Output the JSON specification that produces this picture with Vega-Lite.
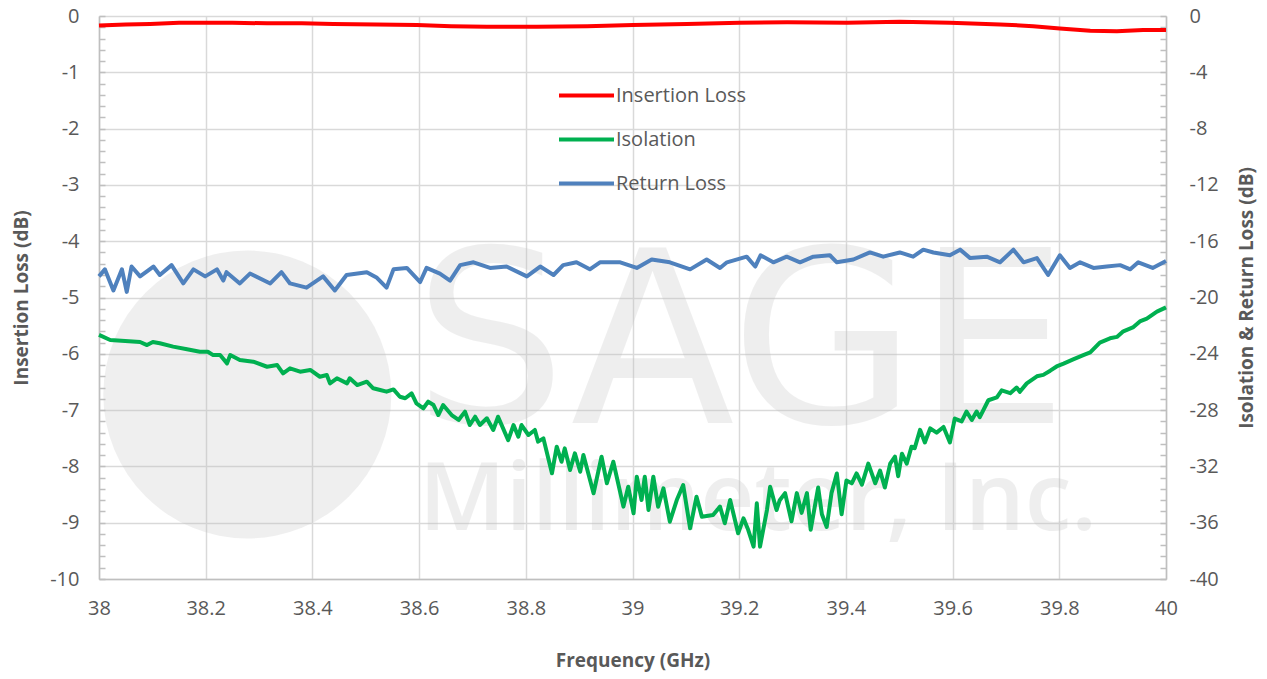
{
  "$schema": "https://vega.github.io/schema/vega-lite/v6.json",
  "width": 1067,
  "height": 563,
  "autosize": {"type": "none"},
  "padding": {"left": 99, "top": 16, "right": 101, "bottom": 100},
  "background": "white",
  "config": {
    "font": "Open Sans",
    "view": {"stroke": null},
    "axis": {
      "labelFont": "Open Sans", "titleFont": "Open Sans",
      "labelColor": "#595959", "titleColor": "#595959",
      "labelFontSize": 20, "titleFontSize": 19, "titleFontWeight": "bold",
      "domainColor": "#BFBFBF", "domainWidth": 1.5,
      "gridColor": "#D9D9D9", "gridWidth": 1.5,
      "tickColor": "#BFBFBF", "tickWidth": 1.5,
      "labelOverlap": false, "labelFlush": false, "labelBound": false
    }
  },
  "datasets": {
    "il": [
      {"freq": 38.0, "loss": -0.17}, {"freq": 38.05, "loss": -0.15}, {"freq": 38.096, "loss": -0.14},
      {"freq": 38.15, "loss": -0.12}, {"freq": 38.189, "loss": -0.12}, {"freq": 38.25, "loss": -0.12},
      {"freq": 38.315, "loss": -0.13}, {"freq": 38.38, "loss": -0.13}, {"freq": 38.439, "loss": -0.14},
      {"freq": 38.52, "loss": -0.15}, {"freq": 38.596, "loss": -0.16}, {"freq": 38.66, "loss": -0.18},
      {"freq": 38.727, "loss": -0.19}, {"freq": 38.821, "loss": -0.19}, {"freq": 38.915, "loss": -0.18},
      {"freq": 39.001, "loss": -0.16}, {"freq": 39.102, "loss": -0.14}, {"freq": 39.201, "loss": -0.12},
      {"freq": 39.29, "loss": -0.11}, {"freq": 39.402, "loss": -0.12}, {"freq": 39.501, "loss": -0.1},
      {"freq": 39.595, "loss": -0.12}, {"freq": 39.689, "loss": -0.15}, {"freq": 39.751, "loss": -0.18},
      {"freq": 39.801, "loss": -0.22}, {"freq": 39.858, "loss": -0.26}, {"freq": 39.908, "loss": -0.27},
      {"freq": 39.957, "loss": -0.25}, {"freq": 40.0, "loss": -0.25}
    ],
    "db": [
      {"series": "Isolation", "freq": 38.0, "db": -22.66}, {"series": "Isolation", "freq": 38.021, "db": -23.02},
      {"series": "Isolation", "freq": 38.049, "db": -23.09}, {"series": "Isolation", "freq": 38.077, "db": -23.16},
      {"series": "Isolation", "freq": 38.09, "db": -23.38}, {"series": "Isolation", "freq": 38.101, "db": -23.16},
      {"series": "Isolation", "freq": 38.114, "db": -23.25}, {"series": "Isolation", "freq": 38.139, "db": -23.49},
      {"series": "Isolation", "freq": 38.165, "db": -23.68}, {"series": "Isolation", "freq": 38.189, "db": -23.85},
      {"series": "Isolation", "freq": 38.204, "db": -23.85}, {"series": "Isolation", "freq": 38.214, "db": -24.09},
      {"series": "Isolation", "freq": 38.227, "db": -24.09}, {"series": "Isolation", "freq": 38.24, "db": -24.68},
      {"series": "Isolation", "freq": 38.246, "db": -24.09}, {"series": "Isolation", "freq": 38.264, "db": -24.44},
      {"series": "Isolation", "freq": 38.289, "db": -24.56}, {"series": "Isolation", "freq": 38.315, "db": -24.92},
      {"series": "Isolation", "freq": 38.334, "db": -24.8}, {"series": "Isolation", "freq": 38.345, "db": -25.39},
      {"series": "Isolation", "freq": 38.358, "db": -25.03}, {"series": "Isolation", "freq": 38.377, "db": -25.27},
      {"series": "Isolation", "freq": 38.396, "db": -25.15}, {"series": "Isolation", "freq": 38.414, "db": -25.63},
      {"series": "Isolation", "freq": 38.427, "db": -25.51}, {"series": "Isolation", "freq": 38.433, "db": -26.1},
      {"series": "Isolation", "freq": 38.446, "db": -25.74}, {"series": "Isolation", "freq": 38.465, "db": -26.1},
      {"series": "Isolation", "freq": 38.47, "db": -25.74}, {"series": "Isolation", "freq": 38.484, "db": -26.22},
      {"series": "Isolation", "freq": 38.502, "db": -25.98}, {"series": "Isolation", "freq": 38.514, "db": -26.45},
      {"series": "Isolation", "freq": 38.527, "db": -26.57}, {"series": "Isolation", "freq": 38.539, "db": -26.69},
      {"series": "Isolation", "freq": 38.552, "db": -26.53}, {"series": "Isolation", "freq": 38.564, "db": -27.05},
      {"series": "Isolation", "freq": 38.574, "db": -27.16}, {"series": "Isolation", "freq": 38.586, "db": -26.81},
      {"series": "Isolation", "freq": 38.595, "db": -27.52}, {"series": "Isolation", "freq": 38.608, "db": -27.87},
      {"series": "Isolation", "freq": 38.617, "db": -27.4}, {"series": "Isolation", "freq": 38.627, "db": -27.64},
      {"series": "Isolation", "freq": 38.636, "db": -28.35}, {"series": "Isolation", "freq": 38.645, "db": -27.64},
      {"series": "Isolation", "freq": 38.661, "db": -28.35}, {"series": "Isolation", "freq": 38.674, "db": -28.7},
      {"series": "Isolation", "freq": 38.686, "db": -28.11}, {"series": "Isolation", "freq": 38.695, "db": -29.06},
      {"series": "Isolation", "freq": 38.705, "db": -28.47}, {"series": "Isolation", "freq": 38.714, "db": -29.06},
      {"series": "Isolation", "freq": 38.727, "db": -28.58}, {"series": "Isolation", "freq": 38.739, "db": -29.41},
      {"series": "Isolation", "freq": 38.748, "db": -28.47}, {"series": "Isolation", "freq": 38.767, "db": -30.13},
      {"series": "Isolation", "freq": 38.777, "db": -29.06}, {"series": "Isolation", "freq": 38.786, "db": -29.89},
      {"series": "Isolation", "freq": 38.792, "db": -29.06}, {"series": "Isolation", "freq": 38.805, "db": -29.77},
      {"series": "Isolation", "freq": 38.817, "db": -29.41}, {"series": "Isolation", "freq": 38.823, "db": -30.24},
      {"series": "Isolation", "freq": 38.833, "db": -30.01}, {"series": "Isolation", "freq": 38.849, "db": -32.49},
      {"series": "Isolation", "freq": 38.858, "db": -30.6}, {"series": "Isolation", "freq": 38.867, "db": -31.67},
      {"series": "Isolation", "freq": 38.873, "db": -30.72}, {"series": "Isolation", "freq": 38.883, "db": -32.26},
      {"series": "Isolation", "freq": 38.892, "db": -31.07}, {"series": "Isolation", "freq": 38.902, "db": -32.38},
      {"series": "Isolation", "freq": 38.908, "db": -31.19}, {"series": "Isolation", "freq": 38.927, "db": -33.91},
      {"series": "Isolation", "freq": 38.942, "db": -31.31}, {"series": "Isolation", "freq": 38.952, "db": -33.2},
      {"series": "Isolation", "freq": 38.964, "db": -31.67}, {"series": "Isolation", "freq": 38.983, "db": -34.86},
      {"series": "Isolation", "freq": 38.992, "db": -33.44}, {"series": "Isolation", "freq": 39.002, "db": -35.33},
      {"series": "Isolation", "freq": 39.008, "db": -32.73}, {"series": "Isolation", "freq": 39.017, "db": -34.39},
      {"series": "Isolation", "freq": 39.023, "db": -32.73}, {"series": "Isolation", "freq": 39.03, "db": -35.1},
      {"series": "Isolation", "freq": 39.039, "db": -32.73}, {"series": "Isolation", "freq": 39.048, "db": -34.86},
      {"series": "Isolation", "freq": 39.058, "db": -33.56}, {"series": "Isolation", "freq": 39.07, "db": -35.93},
      {"series": "Isolation", "freq": 39.083, "db": -34.39}, {"series": "Isolation", "freq": 39.095, "db": -33.32},
      {"series": "Isolation", "freq": 39.108, "db": -36.4}, {"series": "Isolation", "freq": 39.12, "db": -34.15},
      {"series": "Isolation", "freq": 39.13, "db": -35.57}, {"series": "Isolation", "freq": 39.151, "db": -35.45},
      {"series": "Isolation", "freq": 39.164, "db": -34.86}, {"series": "Isolation", "freq": 39.173, "db": -36.04},
      {"series": "Isolation", "freq": 39.183, "db": -34.39}, {"series": "Isolation", "freq": 39.198, "db": -36.75},
      {"series": "Isolation", "freq": 39.208, "db": -35.69}, {"series": "Isolation", "freq": 39.217, "db": -36.52},
      {"series": "Isolation", "freq": 39.227, "db": -37.7}, {"series": "Isolation", "freq": 39.233, "db": -34.62},
      {"series": "Isolation", "freq": 39.239, "db": -37.7}, {"series": "Isolation", "freq": 39.252, "db": -35.1},
      {"series": "Isolation", "freq": 39.258, "db": -33.44}, {"series": "Isolation", "freq": 39.27, "db": -35.1},
      {"series": "Isolation", "freq": 39.276, "db": -34.4}, {"series": "Isolation", "freq": 39.286, "db": -33.9},
      {"series": "Isolation", "freq": 39.298, "db": -35.9}, {"series": "Isolation", "freq": 39.308, "db": -33.9},
      {"series": "Isolation", "freq": 39.317, "db": -35.3}, {"series": "Isolation", "freq": 39.327, "db": -33.9},
      {"series": "Isolation", "freq": 39.334, "db": -36.5}, {"series": "Isolation", "freq": 39.348, "db": -33.5},
      {"series": "Isolation", "freq": 39.355, "db": -35.4}, {"series": "Isolation", "freq": 39.364, "db": -36.3},
      {"series": "Isolation", "freq": 39.373, "db": -33.9}, {"series": "Isolation", "freq": 39.383, "db": -32.5},
      {"series": "Isolation", "freq": 39.392, "db": -35.4}, {"series": "Isolation", "freq": 39.401, "db": -33.0},
      {"series": "Isolation", "freq": 39.411, "db": -33.2}, {"series": "Isolation", "freq": 39.42, "db": -32.5},
      {"series": "Isolation", "freq": 39.43, "db": -33.3}, {"series": "Isolation", "freq": 39.442, "db": -31.8},
      {"series": "Isolation", "freq": 39.455, "db": -33.2}, {"series": "Isolation", "freq": 39.464, "db": -32.3},
      {"series": "Isolation", "freq": 39.473, "db": -33.5}, {"series": "Isolation", "freq": 39.483, "db": -31.8},
      {"series": "Isolation", "freq": 39.492, "db": -31.3}, {"series": "Isolation", "freq": 39.498, "db": -32.7},
      {"series": "Isolation", "freq": 39.505, "db": -31.1}, {"series": "Isolation", "freq": 39.514, "db": -31.8},
      {"series": "Isolation", "freq": 39.523, "db": -30.6}, {"series": "Isolation", "freq": 39.529, "db": -30.7},
      {"series": "Isolation", "freq": 39.539, "db": -29.4}, {"series": "Isolation", "freq": 39.548, "db": -30.3},
      {"series": "Isolation", "freq": 39.558, "db": -29.3}, {"series": "Isolation", "freq": 39.57, "db": -29.6},
      {"series": "Isolation", "freq": 39.583, "db": -29.2}, {"series": "Isolation", "freq": 39.595, "db": -30.3},
      {"series": "Isolation", "freq": 39.604, "db": -28.6}, {"series": "Isolation", "freq": 39.617, "db": -28.8},
      {"series": "Isolation", "freq": 39.626, "db": -28.1}, {"series": "Isolation", "freq": 39.636, "db": -28.7},
      {"series": "Isolation", "freq": 39.645, "db": -28.1}, {"series": "Isolation", "freq": 39.651, "db": -28.5},
      {"series": "Isolation", "freq": 39.667, "db": -27.3}, {"series": "Isolation", "freq": 39.683, "db": -27.1},
      {"series": "Isolation", "freq": 39.692, "db": -26.6}, {"series": "Isolation", "freq": 39.708, "db": -26.8},
      {"series": "Isolation", "freq": 39.72, "db": -26.4}, {"series": "Isolation", "freq": 39.726, "db": -26.7},
      {"series": "Isolation", "freq": 39.739, "db": -26.1}, {"series": "Isolation", "freq": 39.758, "db": -25.6},
      {"series": "Isolation", "freq": 39.77, "db": -25.5}, {"series": "Isolation", "freq": 39.783, "db": -25.2},
      {"series": "Isolation", "freq": 39.795, "db": -24.9}, {"series": "Isolation", "freq": 39.808, "db": -24.7},
      {"series": "Isolation", "freq": 39.826, "db": -24.4}, {"series": "Isolation", "freq": 39.845, "db": -24.1},
      {"series": "Isolation", "freq": 39.858, "db": -23.9}, {"series": "Isolation", "freq": 39.876, "db": -23.2},
      {"series": "Isolation", "freq": 39.895, "db": -22.9}, {"series": "Isolation", "freq": 39.908, "db": -22.8},
      {"series": "Isolation", "freq": 39.92, "db": -22.4}, {"series": "Isolation", "freq": 39.939, "db": -22.1},
      {"series": "Isolation", "freq": 39.951, "db": -21.7}, {"series": "Isolation", "freq": 39.964, "db": -21.5},
      {"series": "Isolation", "freq": 39.983, "db": -21.0}, {"series": "Isolation", "freq": 40.0, "db": -20.7},
      {"series": "Return Loss", "freq": 38.0, "db": -18.5}, {"series": "Return Loss", "freq": 38.011, "db": -18.0},
      {"series": "Return Loss", "freq": 38.027, "db": -19.5}, {"series": "Return Loss", "freq": 38.043, "db": -18.0},
      {"series": "Return Loss", "freq": 38.052, "db": -19.6}, {"series": "Return Loss", "freq": 38.061, "db": -17.8},
      {"series": "Return Loss", "freq": 38.077, "db": -18.5}, {"series": "Return Loss", "freq": 38.102, "db": -17.8},
      {"series": "Return Loss", "freq": 38.114, "db": -18.4}, {"series": "Return Loss", "freq": 38.136, "db": -17.7},
      {"series": "Return Loss", "freq": 38.158, "db": -19.0}, {"series": "Return Loss", "freq": 38.177, "db": -18.0},
      {"series": "Return Loss", "freq": 38.199, "db": -18.5}, {"series": "Return Loss", "freq": 38.221, "db": -18.0},
      {"series": "Return Loss", "freq": 38.233, "db": -18.8}, {"series": "Return Loss", "freq": 38.239, "db": -18.2},
      {"series": "Return Loss", "freq": 38.264, "db": -19.0}, {"series": "Return Loss", "freq": 38.283, "db": -18.3},
      {"series": "Return Loss", "freq": 38.321, "db": -19.0}, {"series": "Return Loss", "freq": 38.342, "db": -18.2},
      {"series": "Return Loss", "freq": 38.358, "db": -19.0}, {"series": "Return Loss", "freq": 38.389, "db": -19.3},
      {"series": "Return Loss", "freq": 38.42, "db": -18.5}, {"series": "Return Loss", "freq": 38.442, "db": -19.5},
      {"series": "Return Loss", "freq": 38.464, "db": -18.4}, {"series": "Return Loss", "freq": 38.502, "db": -18.2},
      {"series": "Return Loss", "freq": 38.521, "db": -18.6}, {"series": "Return Loss", "freq": 38.539, "db": -19.3},
      {"series": "Return Loss", "freq": 38.552, "db": -18.0}, {"series": "Return Loss", "freq": 38.577, "db": -17.9},
      {"series": "Return Loss", "freq": 38.602, "db": -18.9}, {"series": "Return Loss", "freq": 38.614, "db": -17.9},
      {"series": "Return Loss", "freq": 38.639, "db": -18.3}, {"series": "Return Loss", "freq": 38.658, "db": -18.8},
      {"series": "Return Loss", "freq": 38.677, "db": -17.7}, {"series": "Return Loss", "freq": 38.702, "db": -17.5},
      {"series": "Return Loss", "freq": 38.733, "db": -17.9}, {"series": "Return Loss", "freq": 38.764, "db": -17.8},
      {"series": "Return Loss", "freq": 38.802, "db": -18.5}, {"series": "Return Loss", "freq": 38.827, "db": -17.8},
      {"series": "Return Loss", "freq": 38.852, "db": -18.4}, {"series": "Return Loss", "freq": 38.87, "db": -17.7},
      {"series": "Return Loss", "freq": 38.895, "db": -17.5}, {"series": "Return Loss", "freq": 38.92, "db": -18.0},
      {"series": "Return Loss", "freq": 38.939, "db": -17.5}, {"series": "Return Loss", "freq": 38.958, "db": -17.5},
      {"series": "Return Loss", "freq": 38.977, "db": -17.5}, {"series": "Return Loss", "freq": 39.008, "db": -17.9},
      {"series": "Return Loss", "freq": 39.036, "db": -17.3}, {"series": "Return Loss", "freq": 39.07, "db": -17.5},
      {"series": "Return Loss", "freq": 39.108, "db": -18.0}, {"series": "Return Loss", "freq": 39.139, "db": -17.3},
      {"series": "Return Loss", "freq": 39.164, "db": -17.9}, {"series": "Return Loss", "freq": 39.177, "db": -17.5},
      {"series": "Return Loss", "freq": 39.214, "db": -17.1}, {"series": "Return Loss", "freq": 39.23, "db": -17.8},
      {"series": "Return Loss", "freq": 39.24, "db": -17.0}, {"series": "Return Loss", "freq": 39.264, "db": -17.5},
      {"series": "Return Loss", "freq": 39.289, "db": -17.1}, {"series": "Return Loss", "freq": 39.314, "db": -17.5},
      {"series": "Return Loss", "freq": 39.339, "db": -17.1}, {"series": "Return Loss", "freq": 39.37, "db": -17.0},
      {"series": "Return Loss", "freq": 39.383, "db": -17.5}, {"series": "Return Loss", "freq": 39.414, "db": -17.3},
      {"series": "Return Loss", "freq": 39.445, "db": -16.8}, {"series": "Return Loss", "freq": 39.47, "db": -17.1},
      {"series": "Return Loss", "freq": 39.501, "db": -16.8}, {"series": "Return Loss", "freq": 39.526, "db": -17.1},
      {"series": "Return Loss", "freq": 39.545, "db": -16.6}, {"series": "Return Loss", "freq": 39.564, "db": -16.8},
      {"series": "Return Loss", "freq": 39.595, "db": -17.0}, {"series": "Return Loss", "freq": 39.614, "db": -16.6},
      {"series": "Return Loss", "freq": 39.633, "db": -17.2}, {"series": "Return Loss", "freq": 39.664, "db": -17.1},
      {"series": "Return Loss", "freq": 39.689, "db": -17.5}, {"series": "Return Loss", "freq": 39.714, "db": -16.6},
      {"series": "Return Loss", "freq": 39.733, "db": -17.5}, {"series": "Return Loss", "freq": 39.758, "db": -17.2},
      {"series": "Return Loss", "freq": 39.779, "db": -18.4}, {"series": "Return Loss", "freq": 39.801, "db": -17.0},
      {"series": "Return Loss", "freq": 39.82, "db": -17.9}, {"series": "Return Loss", "freq": 39.839, "db": -17.5},
      {"series": "Return Loss", "freq": 39.864, "db": -17.9}, {"series": "Return Loss", "freq": 39.889, "db": -17.8},
      {"series": "Return Loss", "freq": 39.914, "db": -17.7}, {"series": "Return Loss", "freq": 39.933, "db": -18.0},
      {"series": "Return Loss", "freq": 39.948, "db": -17.5}, {"series": "Return Loss", "freq": 39.975, "db": -17.9},
      {"series": "Return Loss", "freq": 40.0, "db": -17.4}
    ]
  },
  "layer": [
    {
      "data": {"values": [{}]},
      "mark": {"type": "point", "shape": "circle", "filled": true, "size": 82944, "color": "#BFBFBF", "opacity": 0.25, "strokeWidth": 0},
      "encoding": {
        "x": {"datum": 38.278, "type": "quantitative", "scale": {"domain": [38, 40], "nice": false, "zero": false}},
        "y": {"datum": -6.723, "type": "quantitative", "scale": {"domain": [-10, 0], "nice": false}, "axis": null}
      }
    },
    {
      "data": {"values": [{}]},
      "mark": {"type": "text", "text": "SAGE", "font": "DejaVu Sans", "fontWeight": 400, "fontSize": 240, "align": "left", "baseline": "alphabetic", "color": "#BFBFBF", "opacity": 0.25},
      "encoding": {
        "x": {"datum": 38.59, "type": "quantitative", "scale": {"domain": [38, 40], "nice": false, "zero": false}},
        "y": {"datum": -7.23, "type": "quantitative", "scale": {"domain": [-10, 0], "nice": false}, "axis": null}
      }
    },
    {
      "data": {"values": [{}]},
      "mark": {"type": "text", "text": "Millimeter, Inc.", "font": "Open Sans", "fontWeight": 600, "fontSize": 94, "align": "left", "baseline": "alphabetic", "color": "#BFBFBF", "opacity": 0.25},
      "encoding": {
        "x": {"datum": 38.6, "type": "quantitative", "scale": {"domain": [38, 40], "nice": false, "zero": false}},
        "y": {"datum": -9.13, "type": "quantitative", "scale": {"domain": [-10, 0], "nice": false}, "axis": null}
      }
    },
    {
      "data": {"name": "db"},
      "mark": {"type": "line", "strokeWidth": 4, "strokeJoin": "round"},
      "encoding": {
        "x": {"field": "freq", "type": "quantitative", "scale": {"domain": [38, 40], "nice": false, "zero": false},
          "axis": {
            "values": [38, 38.2, 38.4, 38.6, 38.8, 39, 39.2, 39.4, 39.6, 39.8, 40],
            "labelExpr": "datum.value + ''",
            "title": "Frequency (GHz)", "grid": true, "ticks": false,
            "labelPadding": 19, "titlePadding": 33
          }
        },
        "y": {"field": "db", "type": "quantitative", "scale": {"domain": [-40, 0], "nice": false},
          "axis": {
            "orient": "right",
            "values": [0, -0.8, -1.6, -2.4, -3.2, -4, -4.8, -5.6, -6.4, -7.2, -8, -8.8, -9.6, -10.4, -11.2, -12, -12.8, -13.6, -14.4, -15.2, -16, -16.8, -17.6, -18.4, -19.2, -20, -20.8, -21.6, -22.4, -23.2, -24, -24.8, -25.6, -26.4, -27.2, -28, -28.8, -29.6, -30.4, -31.2, -32, -32.8, -33.6, -34.4, -35.2, -36, -36.8, -37.6, -38.4, -39.2, -40],
            "labelExpr": "datum.value % 4 === 0 ? datum.value + '' : ''",
            "grid": false, "tickSize": -6, "labelPadding": 29,
            "title": "Isolation & Return Loss (dB)", "titleAngle": 270, "titlePadding": 38
          }
        },
        "color": {"field": "series", "type": "nominal",
          "scale": {"domain": ["Insertion Loss", "Isolation", "Return Loss"], "range": ["#FF0000", "#00B050", "#4F81BD"]},
          "legend": {"orient": "none", "legendX": 458, "legendY": 50, "title": null, "symbolType": "stroke", "symbolSize": 3025, "symbolStrokeWidth": 4, "labelFontSize": 20, "labelColor": "#595959", "labelFont": "Open Sans", "rowPadding": 4, "labelOffset": 0, "padding": 0}
        }
      }
    },
    {
      "data": {"name": "il"},
      "mark": {"type": "line", "strokeWidth": 4, "strokeJoin": "round"},
      "encoding": {
        "x": {"field": "freq", "type": "quantitative", "scale": {"domain": [38, 40], "nice": false, "zero": false}},
        "y": {"field": "loss", "type": "quantitative", "scale": {"domain": [-10, 0], "nice": false},
          "axis": {
            "orient": "left",
            "values": [0, -0.2, -0.4, -0.6, -0.8, -1, -1.2, -1.4, -1.6, -1.8, -2, -2.2, -2.4, -2.6, -2.8, -3, -3.2, -3.4, -3.6, -3.8, -4, -4.2, -4.4, -4.6, -4.8, -5, -5.2, -5.4, -5.6, -5.8, -6, -6.2, -6.4, -6.6, -6.8, -7, -7.2, -7.4, -7.6, -7.8, -8, -8.2, -8.4, -8.6, -8.8, -9, -9.2, -9.4, -9.6, -9.8, -10],
            "labelExpr": "datum.value % 1 === 0 ? datum.value + '' : ''",
            "grid": true,
            "gridOpacity": {"condition": {"test": "datum.value % 1 === 0", "value": 1}, "value": 0},
            "tickSize": -6, "labelPadding": 26,
            "title": "Insertion Loss (dB)", "titlePadding": 18
          }
        },
        "color": {"datum": "Insertion Loss", "type": "nominal",
          "scale": {"domain": ["Insertion Loss", "Isolation", "Return Loss"], "range": ["#FF0000", "#00B050", "#4F81BD"]},
          "legend": {"orient": "none", "legendX": 458, "legendY": 50, "title": null, "symbolType": "stroke", "symbolSize": 3025, "symbolStrokeWidth": 4, "labelFontSize": 20, "labelColor": "#595959", "labelFont": "Open Sans", "rowPadding": 4, "labelOffset": 0, "padding": 0}
        }
      }
    }
  ],
  "resolve": {"scale": {"y": "independent"}}
}
